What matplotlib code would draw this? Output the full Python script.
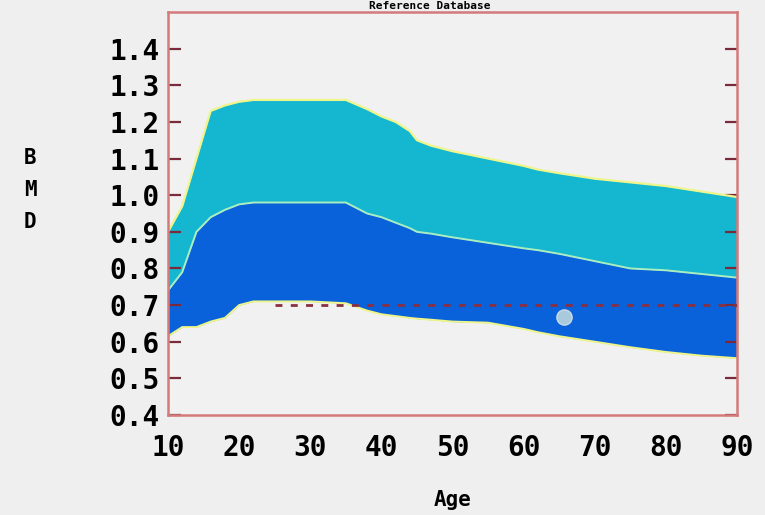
import matplotlib.pyplot as plt

# age grid and BMD reference curves
ages = [10, 12, 14, 16, 18, 20, 22, 25, 30, 35, 38, 40, 42, 44, 45, 47,
        50, 55, 60, 62, 65, 70, 75, 80, 85, 90]
upper = [0.90, 0.97, 1.10, 1.23, 1.245, 1.255, 1.26, 1.26, 1.26, 1.26, 1.235,
         1.215, 1.20, 1.175, 1.15, 1.135, 1.12, 1.10, 1.08, 1.07, 1.06, 1.045,
         1.035, 1.025, 1.01, 0.995]
middle = [0.74, 0.79, 0.90, 0.94, 0.96, 0.975, 0.98, 0.98, 0.98, 0.98, 0.95,
          0.94, 0.925, 0.91, 0.90, 0.895, 0.885, 0.87, 0.855, 0.85, 0.84, 0.82,
          0.80, 0.795, 0.785, 0.775]
lower = [0.615, 0.64, 0.64, 0.655, 0.665, 0.70, 0.71, 0.71, 0.71, 0.705, 0.685,
         0.675, 0.67, 0.665, 0.663, 0.66, 0.655, 0.652, 0.635, 0.626, 0.615,
         0.60, 0.585, 0.572, 0.562, 0.555]

threshold = 0.70
threshold_ages = [25, 90]
patient_age = [65.7]
patient_bmd = [0.668]

x_labels = ["10", "20", "30", "40", "50", "60", "70", "80", "90"]
x_marks = [20, 30, 40, 50, 60, 80]
y_values = [0.4, 0.5, 0.6, 0.7, 0.8, 0.9, 1.0, 1.1, 1.2, 1.3, 1.4]
y_labels = ["0.4", "0.5", "0.6", "0.7", "0.8", "0.9", "1.0", "1.1", "1.2", "1.3", "1.4"]

bg = "#efefef"
frame = "#d47a7a"
tick_c = "#7a2a3a"
mono = dict(family="DejaVu Sans Mono", weight="bold")

fig = plt.figure(figsize=(7.65, 5.15), dpi=100, facecolor=bg)
ax = fig.add_axes([168 / 765, 1 - 415 / 515, (737 - 168) / 765, (415 - 12) / 515])
ax.set_facecolor("#f1f1f1")

ax.fill_between(ages, middle, upper, color="#14b6d0", lw=0, zorder=1)
ax.fill_between(ages, lower, middle, color="#0a62db", lw=0, zorder=1)
ax.plot(ages, upper, color="#eef58a", lw=1.6, zorder=2)
ax.plot(ages, middle, color="#a8eec0", lw=1.4, zorder=2)
ax.plot(ages, lower, color="#eef58a", lw=1.4, zorder=2)

ax.plot(threshold_ages, [threshold, threshold], color="#8a2f3f",
        lw=2, ls=(0, (2.5, 3)), zorder=3)
ax.scatter(patient_age, patient_bmd, s=120, marker="o", color="#a9c9dc",
           edgecolors="#c8dbe6", linewidths=1, zorder=4)

ax.set_xlim(10, 90)
ax.set_ylim(0.4, 1.5)

for s in ax.spines.values():
    s.set_color(frame)
    s.set_linewidth(1.8)

ax.set_xticks([10, 20, 30, 40, 50, 60, 70, 80, 90])
ax.set_xticklabels(x_labels, fontsize=20, **mono)
ax.tick_params(axis="x", which="major", length=0, pad=14)
ax.set_xticks(x_marks, minor=True)
ax.tick_params(axis="x", which="minor", direction="in", length=16, width=1.6,
               color=tick_c, top=True, bottom=True)

ax.set_yticks(y_values)
ax.set_yticklabels(y_labels, fontsize=20, **mono)
ax.tick_params(axis="y", which="major", direction="in", length=9, width=1.6,
               color=tick_c, left=True, right=True, pad=6)

ax.set_xlabel("Age", fontsize=15, labelpad=20, **mono)
fig.text(30 / 765, 1 - 190 / 515, "B\nM\nD", ha="center", va="center",
         fontsize=15, linespacing=1.75, **mono)
# the title sits squeezed into the thin strip above the frame
fig.text(430 / 765, 1 - 1 / 515, "Reference Database", ha="center",
         va="top", fontsize=8, **mono)

fig.savefig("out.png", dpi=100, facecolor=bg)
